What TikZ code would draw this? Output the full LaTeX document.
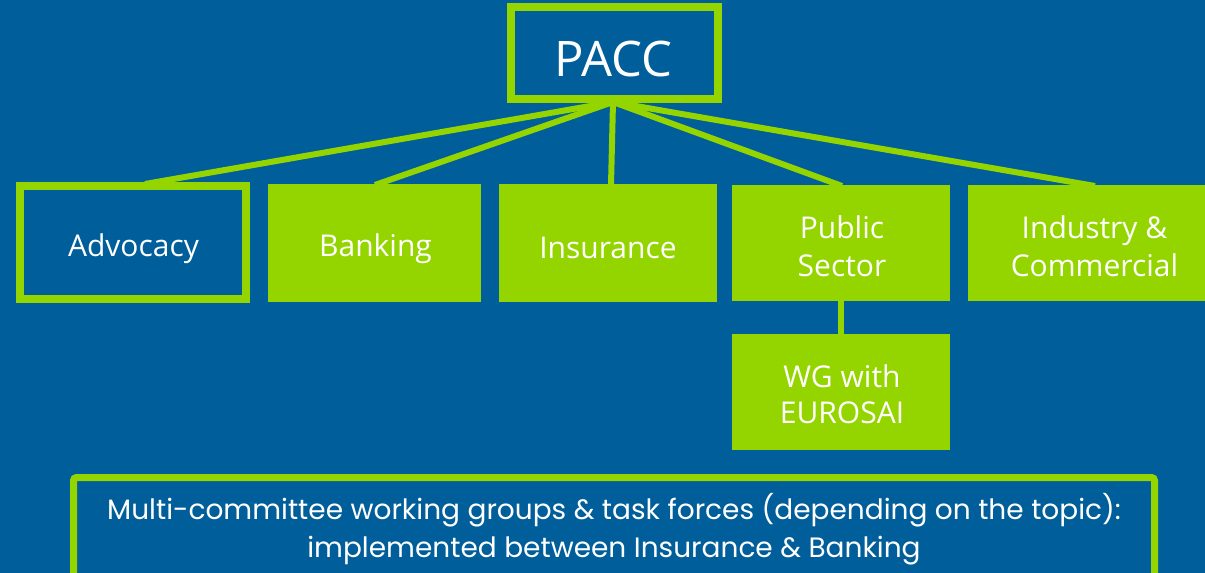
\documentclass[tikz,border=0pt]{standalone}
\usepackage{fontspec}
\setmainfont{Open Sans}
\newfontfamily\popp{Poppins}
\definecolor{bgblue}{HTML}{005E9A}
\definecolor{lgreen}{HTML}{94D500}
\begin{document}
\begin{tikzpicture}[x=1pt,y=-1pt,
  outl/.style={draw=lgreen,line width=8pt,fill=bgblue},
  filled/.style={fill=lgreen,inner sep=0pt},
  lbl/.style={text=white,align=center,inner sep=0pt,font=\fontsize{30}{38}\selectfont},
  conn/.style={draw=lgreen,line width=6pt}]
\fill[bgblue] (0,0) rectangle (1205,573);
\useasboundingbox (0,0) rectangle (1205,573);
% fan lines
\coordinate (hub) at (613,102);
\coordinate (tA) at (145,184);
\coordinate (tB) at (375,185);
\coordinate (tI) at (611,185);
\coordinate (tP) at (842,186);
\coordinate (tN) at (1095,186);
\draw[conn] (hub) -- (tA);
\draw[conn] (hub) -- (tB);
\draw[conn] (hub) -- (tI);
\draw[conn] (hub) -- (tP);
\draw[conn] (hub) -- (tN);
\node[outl,minimum width=207pt,minimum height=92pt] (pacc) at (614.5,53) {};
\node[lbl,font=\fontsize{49}{55}\selectfont] (paccT) at (613.5,59) {PACC};
\node[outl,minimum width=226pt,minimum height=113pt] (adv) at (133,242.5) {};
\node[lbl] (advT) at (133.5,249) {Advocacy};
\node[filled,minimum width=213pt,minimum height=118pt] (bank) at (374.5,243) {};
\node[lbl] (bankT) at (375.5,249) {Banking};
\node[filled,minimum width=218pt,minimum height=118pt] (ins) at (608,243) {};
\node[lbl] (insT) at (608,248) {Insurance};
\node[filled,minimum width=218pt,minimum height=116pt] (pub) at (841,243) {};
\node[lbl] (pubT) at (842,246) {Public\\Sector};
\node[filled,minimum width=237pt,minimum height=116pt] (ind) at (1086.5,243) {};
\node[lbl] (indT) at (1094.5,246) {Industry \&\\Commercial};
\node[filled,minimum width=218pt,minimum height=116pt] (wg) at (841,392) {};
\node[lbl,font=\fontsize{30}{36}\selectfont] (wgT) at (842,394.5) {WG with\\EUROSAI};
\draw[conn] (pub.south) -- (wg.north);
\draw[draw=lgreen,line width=7pt,fill=bgblue,rounded corners=3pt] (73.5,477.5) rectangle (1154.5,590);
\node[lbl,font=\popp\fontsize{28}{38}\selectfont] (multi) at (614,529) {Multi-committee working groups \& task forces (depending on the topic):\\implemented between Insurance \& Banking};
\end{tikzpicture}
\end{document}
